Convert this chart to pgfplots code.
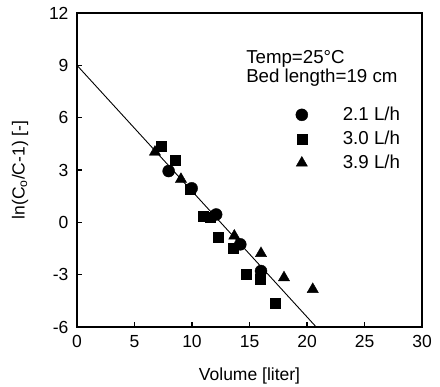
\documentclass[border=0pt]{standalone}
\usepackage{pgfplots}
\pgfplotsset{compat=1.18}
\usepackage{fontspec}
\setmainfont{Liberation Sans}
\begin{document}
\begin{tikzpicture}
\begin{axis}[
  name=ax,
  scale only axis,
  width=345pt, height=314pt,
  xmin=0, xmax=30, ymin=-6, ymax=12,
  xtick={0,5,...,30}, ytick={-6,-3,...,12},
  tick pos=left,
  tick align=inside,
  major tick length=5pt,
  axis line style={line width=1.8pt},
  every tick/.style={line width=1.1pt, black},
  /pgf/number format/assume math mode=true,
  tick label style={font=\fontsize{17.5}{20}\selectfont},
  xticklabel style={yshift=-5pt},
  yticklabel style={xshift=-5pt},
  label style={font=\fontsize{17.5}{20}\selectfont},
  xlabel={Volume [liter]},
  ylabel={ln(C\textsubscript{o}/C-1) [-]},
  xlabel style={at={(axis description cs:0.5,-0.169)}, anchor=base},
  ylabel style={at={(axis description cs:-0.165,0.5)}, anchor=center},
  legend style={at={(axis description cs:0.625,0.713)}, anchor=north west, draw=none, fill=none,
    font=\fontsize{18.7}{21}\selectfont, row sep=5pt, column sep=33pt},
  legend cell align=left,
]
\addplot[black, line width=0.9pt, forget plot] coordinates {(0,9) (20.8,-6)};
\addplot[only marks, mark=*, mark size=6pt, black] coordinates {
(7.97,2.94) (9.97,1.95) (12.1,0.45) (14.2,-1.26) (16.0,-2.79)};
\addlegendentry{2.1 L/h}
\addplot[only marks, mark=square*, mark size=5pt, black] coordinates {
(7.36,4.38) (8.55,3.55) (9.8,1.9) (11.0,0.36) (11.6,0.3) (12.29,-0.88) (13.54,-1.51) (14.7,-2.98) (15.94,-3.27) (17.2,-4.64)};
\addlegendentry{3.0 L/h}
\addplot[only marks, mark=triangle*, mark size=6.5pt, black] coordinates {
(6.78,4.03) (9.04,2.47) (13.68,-0.78) (16.0,-1.78) (18.0,-3.17) (20.5,-3.84)};
\addlegendentry{3.9 L/h}
\node[anchor=west, font=\fontsize{18.7}{21}\selectfont, inner sep=0pt] at (axis cs:14.7,9.35) {Temp=25\textdegree C};
\node[anchor=west, font=\fontsize{18.7}{21}\selectfont, inner sep=0pt] at (axis cs:14.7,8.3) {Bed length=19 cm};
\end{axis}
\pgfresetboundingbox
\path ([shift={(-77pt,-59pt)}]ax.south west) rectangle ([shift={(18pt,13pt)}]ax.north east);
\end{tikzpicture}
\end{document}
